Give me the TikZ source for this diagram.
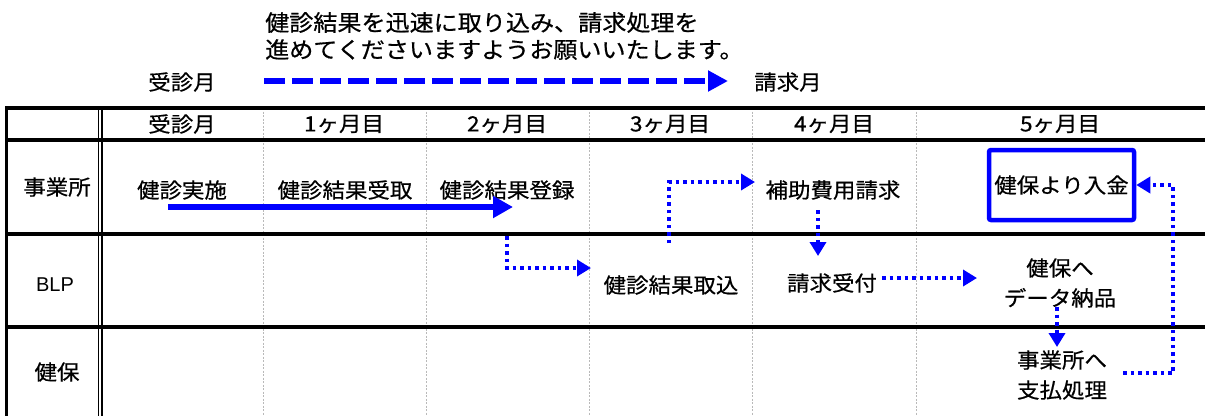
\documentclass[tikz,border=0pt]{standalone}
\usepackage{fontspec}
\newfontfamily\jp[FakeStretch=1.07,FakeBold=0.6]{Noto Sans CJK JP}
\newfontfamily\lat{Liberation Sans}
\usetikzlibrary{arrows.meta}
\definecolor{pblue}{RGB}{0,0,255}
\definecolor{gline}{RGB}{185,185,185}
\tikzset{
  cell/.style={font=\jp\fontsize{21}{30}\selectfont, inner sep=2pt, align=center, text=black},
  toptext/.style={font=\jp\fontsize{22.5}{27}\selectfont, inner sep=0pt, align=left, text=black},
  rule/.style={line width=3.5pt, black},
  dline/.style={line width=1.8pt, black},
  grid/.style={line width=1pt, gline, dash pattern=on 2pt off 1.5pt},
  dotarrow/.style={pblue, line width=3.5pt, dash pattern=on 3.5pt off 4pt, -{Triangle[length=14pt,width=16pt]}},
  bigarrow/.style={pblue, line width=6.5pt, -{Triangle[length=20pt,width=21pt]}},
  dasharrow/.style={pblue, line width=6pt, dash pattern=on 21pt off 7pt, -{Triangle[length=20pt,width=20pt]}},
  paybox/.style={draw=pblue, line width=4.5pt, rounded corners=2pt, minimum width=145pt, minimum height=70pt}
}
\begin{document}
\begin{tikzpicture}[x=1pt,y=-1pt]
\useasboundingbox (0,0) rectangle (1205,416);
% grey dividers
\foreach \xx in {263,426,589,752,916}{\draw[grid] (\xx,108) -- (\xx,416);}
% table rules
\foreach \yy in {108,140,234,327}{\draw[rule] (5,\yy) -- (1205,\yy);}
\draw[rule] (6.5,106.25) -- (6.5,416);
\draw[dline] (98.5,108) -- (98.5,416);
\draw[dline] (102,108) -- (102,416);

% top message
\node[toptext, anchor=west] (msg) at (265,36) {健診結果を迅速に取り込み、請求処理を\\進めてくださいますようお願いいたします。};
\node[cell] (tjm) at (182,82) {受診月};
\node[cell] (sym) at (788,82) {請求月};
\coordinate (ds) at (264,81);
\coordinate (de) at (728,81);
\draw[dasharrow] (ds) -- (de);

% header
\node[cell] (h0) at (182,124) {受診月};
\node[cell] (h1) at (344,124) {1ヶ月目};
\node[cell] (h2) at (507,124) {2ヶ月目};
\node[cell] (h3) at (670,124) {3ヶ月目};
\node[cell] (h4) at (834,124) {4ヶ月目};
\node[cell] (h5) at (1060,124) {5ヶ月目};

% row labels
\node[cell] (r1) at (57,187) {事業所};
\node[cell, font=\lat\fontsize{20}{24}\selectfont] (r2) at (55,285) {BLP};
\node[cell] (r3) at (57,372) {健保};

% row 1
\node[cell] (a1) at (182,190) {健診実施};
\node[cell] (a2) at (345,190) {健診結果受取};
\node[cell] (a3) at (507,190) {健診結果登録};
\node[cell] (a4) at (833,190) {補助費用請求};
\node[cell, paybox] (a5) at (1061.5,185) {健保より入金};

% row 2
\node[cell] (b1) at (671,285) {健診結果取込};
\node[cell] (b2) at (832,283) {請求受付};
\node[cell] (b3) at (1060,283) {健保へ\\データ納品};

% row 3
\node[cell] (c1) at (1062,375) {事業所へ\\支払処理};

% connectors
\coordinate (s1) at (168,207);
\coordinate (e1) at (513,207);
\draw[bigarrow] (s1) -- (e1);

\coordinate (p1) at (507,236);
\coordinate (q1) at (591,268);
\draw[dotarrow] (p1) |- (q1);

\coordinate (p2) at (669,243);
\coordinate (q2) at (755,182);
\draw[dotarrow] (p2) |- (q2);

\coordinate (p3) at (818,210);
\coordinate (q3) at (818,256);
\draw[dotarrow] (p3) -- (q3);

\coordinate (p4) at (882,278);
\coordinate (q4) at (977,278);
\draw[dotarrow] (p4) -- (q4);

\coordinate (p5) at (1057,307);
\coordinate (q5) at (1057,347);
\draw[dotarrow] (p5) -- (q5);

\coordinate (p6) at (1123,373);
\coordinate (k6) at (1173,373);
\draw[dotarrow] (p6) -- (k6) |- (a5.east);
\end{tikzpicture}
\end{document}
